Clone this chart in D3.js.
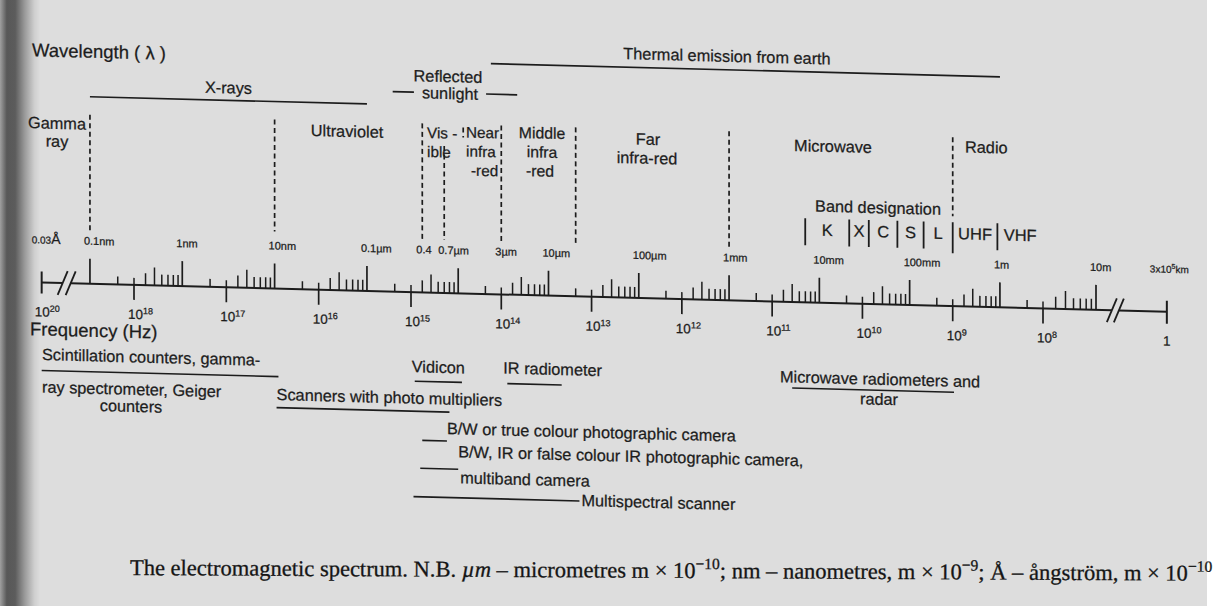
<!DOCTYPE html>
<html><head><meta charset="utf-8">
<script src="https://cdn.jsdelivr.net/npm/d3@7"></script>
<style>
html,body{margin:0;padding:0;background:#fff;}
svg{display:block;}
text{font-family:"Liberation Sans",Arial,sans-serif;fill:#1c1c1c;stroke:#1c1c1c;stroke-width:0.25px;}
</style></head><body>
<svg id="c" width="1224" height="606"></svg>
<script>
// ---------------- DATA ----------------
const C = 3e8; // speed of light, m/s
// frequency axis (Hz): decade ticks below the axis
const freqExponents = [18,17,16,15,14,13,12,11,10,9,8];
const leftEndExp = 20;          // label at the broken left end
const rightEndLabel = "1";      // label at the broken right end
// wavelength axis (m): decade starts of major ticks, last major tick
const wavelengthDecades = [1e-10,1e-9,1e-8,1e-7,1e-6,1e-5,1e-4,1e-3,1e-2,1e-1,1];
const lastMajorWavelength = 10;
const minorMultipliers = [2,3,4,5,6,7,8,9];
// wavelength labels above the axis
const wlLabelValues = [1e-10,1e-9,1e-8,1e-7,0.4e-6,0.7e-6,3e-6,1e-5,1e-4,1e-3,1e-2,1e-1,1,10];
const wlLabelTexts  = ["0.1nm","1nm","10nm","0.1µm","0.4","0.7µm","3µm","10µm","100µm","1mm","10mm","100mm","1m","10m"];
const leftEndWavelength = "0.03";
const rightEndWavelength = ["3x10","5","km"];
// region boundaries (dashed verticals), wavelength in m
const boundaryWavelengths = [1e-10, 1e-8, 0.4e-6, 0.7e-6, 3e-6, 20e-6, 1e-3, 0.3];
// spectral ranges drawn as lines (m)
const xRaysRange = [1e-10, 1e-7];
const reflectedRange = [0.19e-6, 4.5e-6];
const thermalRange = [2.3e-6, 1];
// radar band designation: names and edges in GHz
const bandNames = ["K","X","C","S","L","UHF","VHF"];
const bandEdgesGHz = [43, 14, 8.5, 4.1, 2.1, 1.0, 0.32, 0.1];
// sensors: wavelength ranges (m)
const sensorNames = ["Scintillation counters, gamma-ray spectrometer, Geiger counters","Vidicon","IR radiometer",
  "Scanners with photo multipliers","B/W or true colour photographic camera",
  "B/W, IR or false colour IR photographic camera, multiband camera","Multispectral scanner",
  "Microwave radiometers and radar"];
const sensorRanges = [[3e-11,1.1e-8],[0.33e-6,1.1e-6],[3.5e-6,14e-6],[1.05e-8,0.8e-6],[0.4e-6,0.75e-6],
  [0.38e-6,1.0e-6],[0.32e-6,22e-6],[5e-3,0.31]];

// ---------------- DRAWING ----------------
const W = 1224, H = 606;
const svg = d3.select("#c");
const ink = "#1c1c1c";
const defs = svg.append("defs");
const grad = defs.append("linearGradient").attr("id","bind").attr("x1",0).attr("x2",1).attr("y1",0).attr("y2",0);
[[0,"#a0a0a0"],[0.17,"#585858"],[0.38,"#5c5c5c"],[0.62,"#9a9a9a"],[0.86,"#cfcfcf"],[1,"#dddddd"]]
  .forEach(([o,c])=>grad.append("stop").attr("offset",o).attr("stop-color",c));
svg.append("rect").attr("width",W).attr("height",H).attr("fill","#ffffff");
svg.append("rect").attr("width",1207).attr("height",H).attr("fill","#dddddd");
svg.append("rect").attr("width",40).attr("height",H).attr("fill","url(#bind)");

// the scanned figure is slightly skewed
const T = 0.026;
const g = svg.append("g")
  .attr("transform",`translate(0,${(-600*T).toFixed(2)}) skewY(${(Math.atan(T)*180/Math.PI).toFixed(3)})`);

const x = d3.scaleLog().domain([1e18,1e15,1e8,3e7]).range([134,411,1043,1096]);
const xw = l => x(C/l);
const capL = x(1e19), capR = x(6e6);
const AY = 297;

function ln(x1,y1,x2,y2,w,dash){
  const l = g.append("line").attr("x1",x1).attr("y1",y1).attr("x2",x2).attr("y2",y2)
    .attr("stroke",ink).attr("stroke-width",w||1.6).attr("stroke-linecap","butt");
  if (dash) l.attr("stroke-dasharray",dash);
  return l;
}
function tx(s,xx,yy,anchor,fs){
  return g.append("text").attr("x",xx).attr("y",yy).attr("text-anchor",anchor||"middle")
    .attr("font-size",fs||16.3).text(s);
}

// axis with breaks
ln(capL,AY,capL+21,AY,2);
ln(capL+29,AY,capR-55,AY,2);
ln(capR-48,AY,capR,AY,2);
ln(capL,AY-11,capL,AY+11,2);
ln(capR,AY-11,capR,AY+12,2);
[capL+21,capL+29,capR-55,capR-48].forEach(c=>ln(c-5,AY+12,c+5,AY-12,1.8));

// wavelength ticks
const minorH = {2:8,3:7,4:12,5:18,6:11,7:11,8:11,9:11};
wavelengthDecades.forEach(d=>{
  ln(xw(d),AY,xw(d),AY-25,1.7);
  minorMultipliers.forEach(k=>ln(xw(k*d),AY,xw(k*d),AY-minorH[k],1.5));
});
ln(xw(lastMajorWavelength),AY,xw(lastMajorWavelength),AY-25,1.7);

// frequency ticks & labels
freqExponents.forEach(e=>{
  ln(x(10**e),AY,x(10**e),AY+15,1.7);
  const t = g.append("text").attr("x",x(10**e)-6).attr("y",331).attr("font-size",13.5);
  t.append("tspan").text("10");
  t.append("tspan").attr("dy",-5).attr("font-size",9).text(e);
});
{
  const t = g.append("text").attr("x",capL-7).attr("y",331).attr("font-size",13.5);
  t.append("tspan").text("10");
  t.append("tspan").attr("dy",-5).attr("font-size",9).text(leftEndExp);
  tx(rightEndLabel,capR,331,"middle",13.5);
}

// wavelength labels
wlLabelValues.forEach((v,i)=>tx(wlLabelTexts[i],xw(v)-6,258,"start",11));
{
  const t = g.append("text").attr("x",capL-10).attr("y",258).attr("font-size",10);
  t.append("tspan").text(leftEndWavelength);
  t.append("tspan").attr("font-size",14).text("Å");
  const r = g.append("text").attr("x",capR-17).attr("y",258).attr("font-size",10);
  r.append("tspan").text(rightEndWavelength[0]);
  r.append("tspan").attr("dy",-4).attr("font-size",7).text(rightEndWavelength[1]);
  r.append("tspan").attr("dy",4).text(rightEndWavelength[2]);
}

// region boundaries
const dash = "5,3.5";
boundaryWavelengths.forEach((b,i)=>{
  let y1 = 128, y2 = 244;
  if (b===0.7e-6) y1 = 150;
  if (b===0.3) y2 = 207;
  if (b===1e-8) y2 = 240;
  ln(xw(b),y1,xw(b),y2,1.7,dash);
});
ln(xw(0.7e-6)+19,131,xw(0.7e-6)+19,141,1.7,dash);

// range lines
ln(xw(xRaysRange[0]),110,xw(xRaysRange[1]),110,1.7);
ln(xw(thermalRange[0]),66.5,xw(thermalRange[1]),66.5,1.7);
{
  const sl = tx("sunlight",450,103);
  const w = sl.node().getComputedTextLength();
  ln(xw(reflectedRange[0]),97,450-w/2-8,97,1.6);
  ln(450+w/2+8,97,xw(reflectedRange[1]),97,1.6);
  tx("Reflected",448,86);
}

// region labels
tx("Wavelength ( λ )",32,71,"start",18.5);
tx("Thermal emission from earth",727,58.5);
tx("X-rays",(xw(xRaysRange[0])+xw(xRaysRange[1]))/2,103);
tx("Gamma",57,143); tx("ray",57,161);
tx("Ultraviolet",347,143.5);
tx("Vis -",427,142.5,"start",15.3); tx("ible",427,161.5,"start",15.3);
tx("Near",466,141,"start",15.3); tx("infra",466,160,"start",15.3); tx("-red",471,179,"start",15.3);
tx("Middle",542,140,"middle",15.8); tx("infra",542,159,"middle",15.8); tx("-red",540,178,"middle",15.8);
tx("Far",648,143.5); tx("infra-red",647,162.5);
tx("Microwave",833,146);
tx("Radio",965,143,"start");
tx("Band designation",878,206);
tx("Frequency (Hz)",30,350,"start",18.5);

// band designation
bandNames.forEach((n,i)=>{
  const a = x(bandEdgesGHz[i]*1e9), b = x(bandEdgesGHz[i+1]*1e9);
  if (i < bandNames.length-1) ln(b,213,b,bandNames[i]==="L"?244:240,1.8);
  if (i===0) ln(a,213,a,240,1.8);
  tx(n,(a+b)/2,230,"middle",16.5);
});

// sensors
const sx = i => [xw(sensorRanges[i][0]), xw(sensorRanges[i][1])];
{
  let [a,b] = sx(0);
  ln(a,385,b,385,1.6);
  tx("Scintillation counters, gamma-",42,374.5,"start");
  tx("ray spectrometer, Geiger",42,407,"start");
  tx("counters",131,424);
  [a,b] = sx(1); ln(a,386,b,386,1.6); tx("Vidicon",(a+b)/2,377);
  [a,b] = sx(2); ln(a,386,b,386,1.6); tx("IR radiometer",a-4,376,"start");
  [a,b] = sx(3); ln(a,416,b,416,1.6); tx("Scanners with photo multipliers",a,408.5,"start");
  [a,b] = sx(4); ln(a,445,b,445,1.6); tx("B/W or true colour photographic camera",b,438,"start");
  [a,b] = sx(5); ln(a,473,b,473,1.6); tx("B/W, IR or false colour IR photographic camera,",b,461,"start");
  tx("multiband camera",b+2,487,"start");
  [a,b] = sx(6); ln(a,501.5,b,501.5,1.6); tx("Multispectral scanner",b+2,506.5,"start");
  [a,b] = sx(7); ln(a,383,b,383,1.6); tx("Microwave radiometers and",780,377.5,"start");
  tx("radar",879,397.5);
}

// caption
{
  const cg = svg.append("g").attr("transform","rotate(0.3,130,575)");
  const t = cg.append("text").attr("x",130).attr("y",575).attr("font-size",22.5)
    .style("font-family","'Liberation Serif','Times New Roman',serif")
    .style("fill","#151515").style("stroke","#151515").style("stroke-width","0.3px");
  const parts = [
    ["The electromagnetic spectrum. N.B. ",0],["µm",2],[" – micrometres m × 10",0],["−10",1],
    ["; nm – nanometres, m × 10",0],["−9",1],["; Å – ångström, m × 10",0],["−10",1]];
  let up = false;
  parts.forEach(([s,k])=>{
    const sp = t.append("tspan").text(s);
    if (k===1){ sp.attr("dy",-9).attr("font-size",15.5); up = true; }
    else { if (up){ sp.attr("dy",9); up=false; } if (k===2) sp.style("font-style","italic"); }
  });
}
</script>
</body></html>
